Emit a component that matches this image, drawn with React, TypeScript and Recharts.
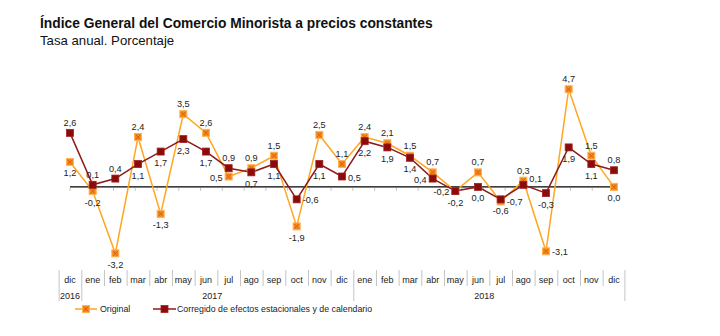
import React from 'react';
import { ComposedChart, Line, XAxis, YAxis, ReferenceLine, LabelList } from 'recharts';

const MONTHS = ['dic','ene','feb','mar','abr','may','jun','jul','ago','sep','oct','nov','dic','ene','feb','mar','abr','may','jun','jul','ago','sep','oct','nov','dic'];
const YEARS = ['2016','2017','2017','2017','2017','2017','2017','2017','2017','2017','2017','2017','2017','2018','2018','2018','2018','2018','2018','2018','2018','2018','2018','2018','2018'];
const ORIGINAL = [1.2,-0.2,-3.2,2.4,-1.3,3.5,2.6,0.5,0.9,1.5,-1.9,2.5,1.1,2.4,2.1,1.5,0.7,-0.2,0.7,-0.7,0.3,-3.1,4.7,1.5,0.0];
const CORREGIDO = [2.6,0.1,0.4,1.1,1.7,2.3,1.7,0.9,0.7,1.1,-0.6,1.1,0.5,2.2,1.9,1.4,0.4,-0.2,0.0,-0.6,0.1,-0.3,1.9,1.1,0.8];

const SERIES_NAMES = ['Original', 'Corregido de efectos estacionales y de calendario'];
const TITLE = 'Índice General del Comercio Minorista a precios constantes';
const SUBTITLE = 'Tasa anual. Porcentaje';

// label placement (style only)
const ORIG_POS = ['below','below','below','above','below','above','above','left','above','above','below','above','above','above','above','above','above','left','above','right','above','right','above','above','below'];
const CORR_POS = ['above','above','above','below','below','below','below','above','below','below','right','below','right','below','below','below','left','below','below','below','upright','below','below','below','above'];

const data = MONTHS.map((m, i) => ({
  key: `${m}-${YEARS[i]}-${i}`,
  month: m,
  year: YEARS[i],
  orig: ORIGINAL[i],
  corr: CORREGIDO[i],
}));

const FONT = '"Liberation Sans", Arial, Helvetica, sans-serif';
const ORANGE = '#FFA51F';
const RED = '#8C1A1A';
const GRID = '#C4C4C4';
const TXT = '#222';

const fmt = (v: number) => v.toFixed(1).replace('.', ',');

const OrangeMarker = ({ cx, cy }: { cx: number; cy: number }) => (
  <g>
    <rect x={cx - 3.5} y={cy - 3.5} width={7} height={7} fill="#F28A1E" stroke="#FFB255" strokeWidth={1} />
    <line x1={cx - 2.2} y1={cy - 2.2} x2={cx + 2.2} y2={cy + 2.2} stroke="#E0600A" strokeWidth={1} />
    <line x1={cx - 2.2} y1={cy + 2.2} x2={cx + 2.2} y2={cy - 2.2} stroke="#E0600A" strokeWidth={1} />
  </g>
);

const RedMarker = ({ cx, cy }: { cx: number; cy: number }) => (
  <g>
    <rect x={cx - 3.5} y={cy - 3.5} width={7} height={7} fill="#8B0A0A" stroke="#A02020" strokeWidth={0.8} />
  </g>
);

const makeDot = (kind: 'o' | 'r') => (props: any) => {
  const { cx, cy, index } = props;
  if (cx == null || cy == null) return <g key={`d-${kind}-${index}`} />;
  return (
    <g key={`d-${kind}-${index}`}>
      {kind === 'o' ? <OrangeMarker cx={cx} cy={cy} /> : <RedMarker cx={cx} cy={cy} />}
    </g>
  );
};

const makeLabel = (positions: string[]) => (props: any) => {
  const x = props.x ?? props.viewBox?.x;
  const y = props.y ?? props.viewBox?.y;
  const { value, index } = props;
  if (x == null || y == null || value == null) return null;
  let dx = 0;
  let dy = 0;
  let anchor: 'middle' | 'start' | 'end' = 'middle';
  switch (positions[index]) {
    case 'above': dy = -7; break;
    case 'below': dy = 14.5; break;
    case 'left': dx = -6; dy = 4; anchor = 'end'; break;
    case 'right': dx = 6; dy = 4; anchor = 'start'; break;
    case 'upright': dx = 6; dy = -3; anchor = 'start'; break;
  }
  return (
    <text x={x + dx} y={y + dy} textAnchor={anchor} fontSize={9.2} fontFamily={FONT} fill={TXT}>
      {fmt(Number(value))}
    </text>
  );
};

const MonthTick = (props: any) => {
  const { x, y, payload } = props;
  const i: number = payload?.index ?? props.index ?? 0;
  const half: number = payload?.offset || 10.88;
  const n = MONTHS.length;
  const isYearStart = i === 0 || YEARS[i] !== YEARS[i - 1];
  let yearLabel = null;
  if (isYearStart) {
    const count = YEARS.filter((yy) => yy === YEARS[i]).length;
    yearLabel = (
      <text x={x + (count - 1) * half} y={y + 28.5} textAnchor="middle" fontSize={9} fontFamily={FONT} fill={TXT}>
        {YEARS[i]}
      </text>
    );
  }
  return (
    <g>
      <line x1={x - half} y1={y} x2={x - half} y2={y + (isYearStart ? 31 : 16)} stroke={GRID} strokeWidth={1} />
      {i === n - 1 && (
        <line x1={x + half} y1={y} x2={x + half} y2={y + 31} stroke={GRID} strokeWidth={1} />
      )}
      <text x={x} y={y + 13} textAnchor="middle" fontSize={9} fontFamily={FONT} fill={TXT}>
        {MONTHS[i]}
      </text>
      {yearLabel}
    </g>
  );
};

const ZeroLine = (props: any) => {
  const { x1, y1, x2, y2 } = props;
  const n = data.length;
  const step = (x2 - x1) / n;
  const ticks = [];
  for (let k = 0; k <= n; k++) {
    const tx = x1 + k * step;
    ticks.push(<line key={k} x1={tx} y1={y1 + 1} x2={tx} y2={y1 + 4} stroke={GRID} strokeWidth={1} />);
  }
  return (
    <g>
      {ticks}
      <line x1={x1} y1={y1} x2={x2} y2={y2} stroke="#000" strokeWidth={1.3} />
    </g>
  );
};

export default function App() {
  return (
    <div style={{ position: 'fixed', left: 0, top: 0, width: 720, height: 336, background: '#fff' }}>
      <ComposedChart
        width={720}
        height={336}
        data={data}
        margin={{ top: 83, right: 106, bottom: 30, left: 70 }}
      >
        <XAxis
          dataKey="key"
          axisLine={false}
          tickLine={false}
          tickSize={0}
          tickMargin={0}
          height={36}
          interval={0}
          tick={<MonthTick />}
        />
        <YAxis hide domain={[-4, 5]} allowDataOverflow />
        <ReferenceLine y={0} shape={<ZeroLine />} ifOverflow="extendDomain" />
        <Line
          dataKey="orig"
          name={SERIES_NAMES[0]}
          stroke={ORANGE}
          strokeWidth={1.5}
          dot={makeDot('o')}
          activeDot={false}
          isAnimationActive={false}
        >
          <LabelList dataKey="orig" content={makeLabel(ORIG_POS)} />
        </Line>
        <Line
          dataKey="corr"
          name={SERIES_NAMES[1]}
          stroke={RED}
          strokeWidth={1.5}
          dot={makeDot('r')}
          activeDot={false}
          isAnimationActive={false}
        >
          <LabelList dataKey="corr" content={makeLabel(CORR_POS)} />
        </Line>
      </ComposedChart>
      <svg
        width={720}
        height={336}
        style={{ position: 'absolute', left: 0, top: 0, pointerEvents: 'none' }}
      >
        <text x={40} y={28} fontSize={13.8} fontWeight="bold" fontFamily={FONT} fill="#111">{TITLE}</text>
        <text x={40} y={45} fontSize={13.2} fontFamily={FONT} fill="#111">{SUBTITLE}</text>
        <g>
          <line x1={75} y1={309} x2={97} y2={309} stroke={ORANGE} strokeWidth={1.5} />
          <OrangeMarker cx={86} cy={309} />
          <text x={100} y={312} fontSize={8.8} fontFamily={FONT} fill={TXT}>{SERIES_NAMES[0]}</text>
          <line x1={153} y1={309} x2={176} y2={309} stroke={RED} strokeWidth={1.5} />
          <RedMarker cx={164.5} cy={309} />
          <text x={177} y={312} fontSize={8.8} fontFamily={FONT} fill={TXT}>{SERIES_NAMES[1]}</text>
        </g>
      </svg>
    </div>
  );
}
